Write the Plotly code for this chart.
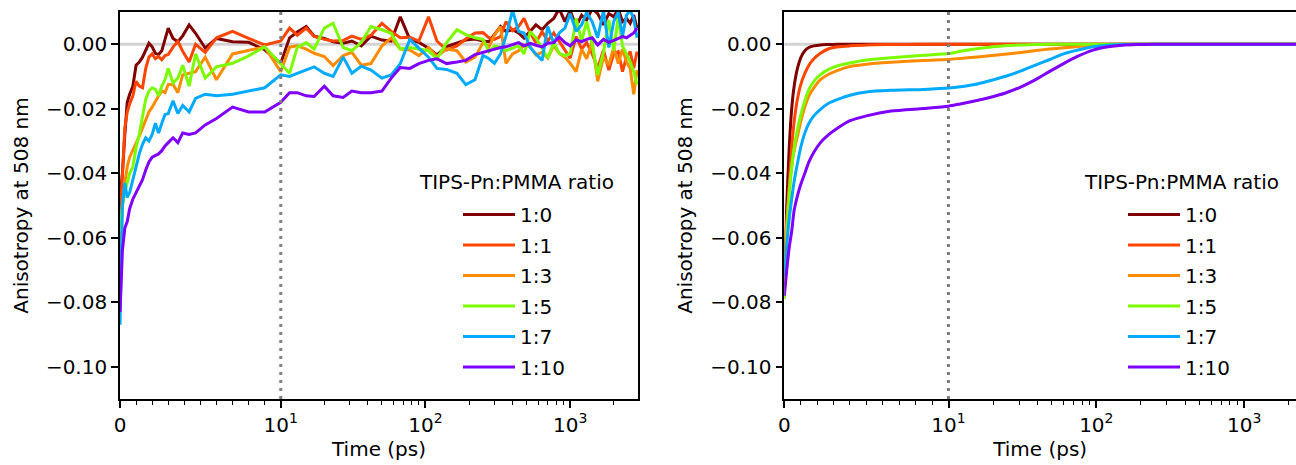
import math
import plotly.graph_objects as go

FONT = "DejaVu Sans"

# ---------------- data ----------------
ratios = ["1:0", "1:1", "1:3", "1:5", "1:7", "1:10"]
colors = ["#800000", "#ff4500", "#ff8c00", "#7cfc00", "#00aaff", "#7f00ff"]
legend_title = "TIPS-Pn:PMMA ratio"

# measured anisotropy (left), values in units of 1e-3
t_exp = [0, 0.15, 0.3, 0.45, 0.6, 0.8, 1.0, 1.2, 1.4, 1.6, 1.8, 2.0, 2.2, 2.4, 2.6, 2.8, 3.0, 3.3, 3.6, 3.9,
         4.3, 4.7, 5.3, 6.0, 7.0, 8.0, 9.0, 10.0,
         11.5, 13, 15, 17, 20, 23, 27, 31, 36, 42, 50, 58, 67, 78, 90, 105, 120, 140, 165, 190, 220,
         250, 275, 300, 330, 360, 400, 440, 480, 530, 580, 640, 700, 770, 840, 920, 1000, 1100, 1200,
         1300, 1420, 1550, 1700, 1850, 2000, 2150, 2300, 2450, 2600, 2750, 2900]

exp_1_0 = [-48, -40, -28, -18, -15.5, -13, -6.5, -5.5, -4, -2, 0.3, -0.8, -2.8, -3.2, -2, 1.5, 5, 1.8, 0.8, 2.6,
           6, 3.4, -1.2, 1.8, 0.8, 0.6, -1.7, -5.9,
           2, 3.8, 5.5, 2.5, 1.8, 0.8, 0.3, 1.0, -0.5, 2.5, 1.3, 1.0, 8.5, 1.5, 0.6, -1.2, -3.3, -0.7, 0.3, 1.3, 1.6,
           1.0, 0.8, 3.0, 5.5, 4.0, 4.5, 3.5, 1.9, 4.0, 6.0, 4.5, 6.5, 8.0, 11, 7.0, 10.5, 5.5, 9.0,
           7.5, 11, 9.5, 6.0, 9.5, 8.5, 11, 7.0, 8.0, 6.5, 9.0, 5.0]
exp_1_1 = [-55, -38, -26, -21, -18.5, -16, -11.5, -13, -13.5, -7.5, -4, -3, -4.5, -3.8, -4.8, -3.5, -3.2, -0.9, 0.9, -2.2,
           -5.5, 0, -2.5, 2, 4, 1.8, -0.2, 1.0,
           5.0, 2.8, 5.0, 2.4, 1.5, 1.0, 1.2, 2.5, 1.5, 2.8, 6.5, 4.0, 2.0, 2.2, 1.0, 8.5, 1.0, -1.8, -0.5, 1.6, 3.5,
           3.6, 2.0, 1.5, 2.4, 7.0, 4.2, 5.5, 8.0, 3.5, 0.5, 3.9, 1.0, 3.5, 1.0, -2.0, -4.3, 2.4, -1.5,
           0.5, -3.0, -7.4, -1.8, -8.0, -3.0, -2.3, -8.5, -4.0, -2.3, -7.4, -2.3]
exp_1_3 = [-65, -50, -43, -38, -35, -33, -30.5, -28.5, -26, -23.5, -21, -19.5, -17.5, -16, -14.5, -15, -12.5, -12.5, -15, -9.5,
           -9, -8.5, -4, -11, -3, -2, -0.8, -8.5,
           -0.9, -0.5, -1.5, -2.8, -3.8, -6.6, -3.5, -2.5, -6.5, -6.0, -0.5, 2.0, -1.5, -1.8, -3.5, -1.0, -3.8, -1.5, -2.0, -5.5, -4.0,
           0.5, -0.8, 2.9, 5.5, -5.9, -3.0, -2.0, -0.2, -0.8, -3.3, -2.5, -4.3, -0.5, -2.8, -4.0, -5.9, -8.5, -1.5,
           -4.5, 0.8, -11.5, -4.0, -6.5, -1.0, -6.0, -1.5, -5.5, -7.5, -15.5, -8.0]
exp_1_5 = [-58, -50, -46, -43, -40, -38, -32, -28, -23, -17, -14.5, -13.5, -14, -16, -13, -11, -7.5, -12, -10.5, -6.5,
           -13, -3, -10.5, -7, -5.9, -3.6, -0.8, -5.9,
           -9.0, -1.0, 0.5, -1.5, 5.0, 6.5, -1.0, -2.0, 0.5, 5.5, 4.5, 3.4, -1.5, -1.0, -1.5, -2.0, -4.5, 0.5, 4.5, 3.0, 2.0,
           1.5, -2.3, -0.5, -1.0, -2.0, -1.2, -0.5, -3.0, 3.9, 2.0, -1.5, -4.3, 0.5, -2.8, -3.5, -3.0, 8.0, 1.0,
           7.0, 0.0, -9.5, -2.5, 7.5, -2.0, 8.5, -0.5, -3.0, -5.5, -8.5, -12.5]
exp_1_7 = [-87, -50, -43, -47.5, -46, -42, -38, -34, -31, -29, -30, -28, -24.5, -27.5, -24.5, -21.8, -21.5, -17.5, -21.5, -19,
           -21, -16.8, -15.5, -16, -15.5, -14.5, -13.5, -9.5,
           -10, -9.0, -7.8, -7, -9, -10, -4.0, -9, -6.8, -8, -10.5, -9.5, -6.0, 1.5, -1.2, -4.0, -7.5, -7.8, -9, -12.5, -11,
           -3.5, -4.5, -5.9, -3.0, 2.5, 10.5, 4.0, 3.5, -1.0, -3.0, -5.0, 5.5, 0.3, 3.5, 5.0, 9.5, 4.0, 6.0,
           9.8, 7.0, 2.0, 10.5, -1.0, 7.0, 10.0, 2.5, 9.0, 10.5, 8.0, 2.0]
exp_1_10 = [-83, -64, -57, -55, -51, -48, -46, -44, -42, -39, -36.5, -35, -34.5, -34, -33, -31.5, -30.5, -29, -30.5, -27.5,
            -28, -27.5, -25, -23, -19.5, -21, -21, -18,
            -15, -15, -16, -16.2, -13, -16, -16.5, -14.5, -15, -15, -14.5, -10.5, -7.2, -7.5, -6.0, -5.0, -4.5, -6.0, -5.5, -5.0, -3.2,
            -2.5, -2.2, -1.5, -1.0, -0.8, -0.2, 0.5, -0.5, 0.3, -0.3, -0.8, 0.3, 0.5, 2.2, 0.5, -0.5, 1.3, 0.8,
            1.5, 2.0, -0.2, 1.5, 0.6, 1.2, 1.8, 2.4, 2.0, 2.9, 3.5, 5.0]

# fitted anisotropy (right), values in units of 1e-3
t_fit = [0, 0.15, 0.3, 0.45, 0.6, 0.8, 1.0, 1.25, 1.5, 1.8, 2.2, 2.7, 3.3, 4.0, 5.0, 6.5, 8.5, 10, 12, 15,
         19, 24, 30, 38, 48, 60, 75, 95, 120, 150, 190, 240, 300, 400, 600, 1000, 2000, 3000]
fit_1_0 = [-75, -50, -32, -20, -13, -7.5, -4.2, -2.0, -1.0, -0.5, -0.2, -0.1, 0, 0, 0, 0, 0, 0, 0, 0,
           0, 0, 0, 0, 0, 0, 0, 0, 0, 0, 0, 0, 0, 0, 0, 0, 0, 0]
fit_1_1 = [-75, -58, -44, -32, -24, -17, -12.5, -9, -6.5, -4.5, -2.8, -1.4, -0.8, -0.5, -0.2, -0.1, 0, 0, 0, 0,
           0, 0, 0, 0, 0, 0, 0, 0, 0, 0, 0, 0, 0, 0, 0, 0, 0, 0]
fit_1_3 = [-68, -55, -45, -38, -33, -28.5, -24, -19.5, -16, -13.5, -11, -9.3, -8.0, -6.9, -6.2, -5.6, -5.0, -4.7, -4.4, -4.0,
           -3.6, -3.1, -2.6, -2.0, -1.5, -1.1, -0.7, -0.4, -0.2, -0.1, 0, 0, 0, 0, 0, 0, 0, 0]
fit_1_5 = [-79, -60, -47, -38, -32, -26.5, -22, -17.5, -14, -11.5, -9.4, -7.8, -6.6, -5.8, -4.9, -4.2, -3.4, -2.9, -2.2, -1.5,
           -0.9, -0.5, -0.2, -0.1, 0, 0, 0, 0, 0, 0, 0, 0, 0, 0, 0, 0, 0, 0]
fit_1_7 = [-72, -62, -54, -48, -42.5, -37, -32, -27.5, -24.5, -22.2, -20.2, -18.3, -17, -15.8, -14.8, -14.3, -14.0, -13.6, -13.2, -12.5,
           -11.3, -10, -8.5, -6.6, -4.8, -3.0, -1.8, -0.8, -0.3, -0.1, 0, 0, 0, 0, 0, 0, 0, 0]
fit_1_10 = [-78, -70, -63, -58, -51.5, -47, -43.5, -40, -36.5, -33.5, -30.5, -28, -25.8, -23.7, -22.2, -20.7, -19.9, -19.2, -18.5, -17.6,
            -16.5, -15.2, -13.5, -11.2, -8.5, -6.0, -3.7, -1.8, -0.8, -0.3, -0.1, 0, 0, 0, 0, 0, 0, 0]

VALUE_SCALE = 1e-3

x_tick_times = [0, 10, 100, 1000]
x_tick_text = ["0", "10<sup>1</sup>", "10<sup>2</sup>", "10<sup>3</sup>"]
x_minor_times = [1, 2, 3, 4, 5, 6, 7, 8, 9, 20, 30, 40, 50, 60, 70, 80, 90,
                 200, 300, 400, 500, 600, 700, 800, 900, 2000]
y_tick_vals = [0.0, -0.02, -0.04, -0.06, -0.08, -0.10]
y_tick_text = ["0.00", "\u22120.02", "\u22120.04", "\u22120.06", "\u22120.08", "\u22120.10"]
marker_time = 10
LINTHRESH = 10.0


def symlog(t):
    """matplotlib-style symlog (linthresh=10, linscale=1), in decades."""
    lin_adj = 1.0 / (1.0 - 0.1)
    if abs(t) <= LINTHRESH:
        return t / LINTHRESH * lin_adj
    return math.copysign(lin_adj + math.log10(abs(t) / LINTHRESH), t)


exp_sets = [exp_1_0, exp_1_1, exp_1_3, exp_1_5, exp_1_7, exp_1_10]
fit_sets = [fit_1_0, fit_1_1, fit_1_3, fit_1_5, fit_1_7, fit_1_10]

fig = go.Figure()
xe = [symlog(t) for t in t_exp]
xf = [symlog(t) for t in t_fit]
for i, name in enumerate(ratios):
    fig.add_trace(go.Scatter(
        x=xe, y=[v * VALUE_SCALE for v in exp_sets[i]], mode="lines", name=name,
        line=dict(color=colors[i], width=3), xaxis="x", yaxis="y",
        legend="legend", legendgroup="a" + name, hoverinfo="skip"))
for i, name in enumerate(ratios):
    fig.add_trace(go.Scatter(
        x=xf, y=[v * VALUE_SCALE for v in fit_sets[i]], mode="lines", name=name,
        line=dict(color=colors[i], width=3, shape="spline", smoothing=0.6), xaxis="x2", yaxis="y2",
        legend="legend2", legendgroup="b" + name, hoverinfo="skip"))

W, H = 1296, 465
Y_DOM = [(H - 399) / H, (H - 12) / H]
tickfont = dict(family=FONT, size=20, color="black")

common_x = dict(
    tickmode="array", tickvals=[symlog(t) for t in x_tick_times], ticktext=x_tick_text,
    ticks="outside", ticklen=7, tickwidth=1.6, tickcolor="black",
    showline=True, linecolor="black", linewidth=1.6, showgrid=False, zeroline=False,
    tickfont=tickfont, automargin=False,
    minor=dict(tickmode="array", tickvals=[symlog(t) for t in x_minor_times],
               ticks="outside", ticklen=4, tickwidth=1.2, tickcolor="black", showgrid=False),
    title=dict(text="Time (ps)", font=tickfont, standoff=6),
)
common_y = dict(
    range=[-0.11, 0.01], tickmode="array", tickvals=y_tick_vals, ticktext=y_tick_text,
    ticks="outside", ticklen=7, tickwidth=1.6, tickcolor="black",
    showline=True, linecolor="black", linewidth=1.6, showgrid=False, zeroline=False,
    tickfont=tickfont, automargin=False,
    title=dict(text="Anisotropy at 508 nm", font=tickfont, standoff=12),
)

legend_common = dict(xanchor="left", yanchor="top", bgcolor="rgba(0,0,0,0)", borderwidth=0,
                     tracegroupgap=1.5, itemwidth=52,
                     font=dict(family=FONT, size=20, color="black"))

fig.update_layout(
    width=W, height=H,
    margin=dict(l=0, r=0, t=0, b=0),
    paper_bgcolor="white", plot_bgcolor="white",
    font=dict(family=FONT, size=20, color="black"),
    xaxis=dict(common_x, domain=[120 / W, 638 / W], range=[0, 3.58], mirror=True, anchor="y"),
    yaxis=dict(common_y, domain=Y_DOM, mirror=True, anchor="x"),
    xaxis2=dict(common_x, domain=[784.3 / W, 1.0], range=[0, 3.462], mirror=True, anchor="y2"),
    yaxis2=dict(common_y, domain=Y_DOM, mirror=False, anchor="x2"),
    legend=dict(legend_common, x=458 / W, y=1 - 195 / H),
    legend2=dict(legend_common, x=1123 / W, y=1 - 195 / H),
    showlegend=True,
)

# legend titles, centred above the legend entries
for cx in (516.5, 1181):
    fig.add_annotation(text=legend_title, xref="paper", yref="paper", x=cx / W, y=1 - 182 / H,
                       xanchor="center", yanchor="middle", showarrow=False,
                       font=dict(family=FONT, size=20, color="black"))

# zero reference lines (behind data) and dotted marker line at t = 10 ps
for xr, yr in (("x", "y"), ("x2", "y2")):
    fig.add_shape(type="line", xref=xr + " domain", yref=yr, x0=0, x1=1, y0=0, y1=0,
                  line=dict(color="#d3d3d3", width=3), layer="below")
    fig.add_shape(type="line", xref=xr, yref=yr + " domain", x0=symlog(marker_time), x1=symlog(marker_time),
                  y0=0, y1=1, line=dict(color="#808080", width=3, dash="3px,5px"), layer="above")

fig.write_html("out.html", config={"displayModeBar": False},
               post_script="document.body.style.margin='0px';")
